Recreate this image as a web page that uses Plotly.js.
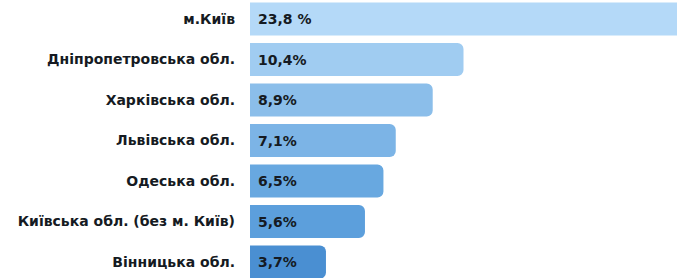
<!DOCTYPE html>
<html>
<head>
<meta charset="utf-8">
<script src="https://cdn.plot.ly/plotly-3.0.1.min.js"></script>
<style>html,body{margin:0;padding:0;background:#fff;}#chart{width:677px;height:278px;}</style>
</head>
<body>
<div id="chart"></div>
<script>
const regions = ["м.Київ", "Дніпропетровська обл.", "Харківська обл.", "Львівська обл.", "Одеська обл.", "Київська обл. (без м. Київ)", "Вінницька обл."];
const shares = [23.8, 10.4, 8.9, 7.1, 6.5, 5.6, 3.7];
const shareLabels = ["23,8 %", "10,4%", "8,9%", "7,1%", "6,5%", "5,6%", "3,7%"];
const barColors = ["#b4d9f8", "#a0ccf1", "#8bbeea", "#7cb4e6", "#68a8e0", "#5c9fdc", "#4a8fd2"];

const trace = {
  type: 'bar',
  orientation: 'h',
  y: regions,
  x: shares,
  marker: {color: barColors, cornerradius: 6, line: {width: 0}},
  width: 0.82,
  hoverinfo: 'none'
};

const annotations = regions.map((r, i) => ({
  x: 0, y: r, xref: 'x', yref: 'y',
  text: shareLabels[i], showarrow: false,
  xanchor: 'left', xshift: 6,
  font: {family: 'DejaVu Sans', size: 14, color: '#151a22', weight: 700}
}));

const layout = {
  width: 677, height: 278,
  margin: {l: 250, r: 0, t: 0, b: 0, pad: 0},
  paper_bgcolor: '#fff', plot_bgcolor: '#fff',
  showlegend: false,
  xaxis: {range: [0, 20.8], visible: false, fixedrange: true},
  yaxis: {
    type: 'category',
    range: [6.395, -0.469],
    showgrid: false, zeroline: false, showline: false,
    ticks: '', ticklabelstandoff: 14,
    tickfont: {family: 'DejaVu Sans', size: 14, color: '#151a22', weight: 700}
  },
  annotations: annotations
};

Plotly.newPlot('chart', [trace], layout, {displayModeBar: false, staticPlot: true});
</script>
</body>
</html>
